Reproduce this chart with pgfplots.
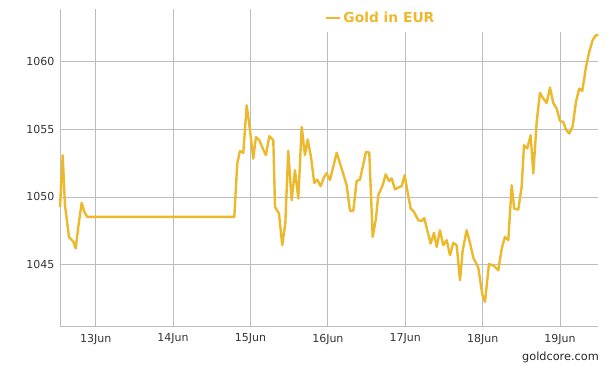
\documentclass[border=0pt]{standalone}
\usepackage{fontspec}
\setmainfont{DejaVu Sans}
\usepackage{pgfplots}
\pgfplotsset{compat=1.18}
\definecolor{gold}{RGB}{236,185,45}
\definecolor{gridc}{RGB}{188,188,188}
\definecolor{txt}{RGB}{51,51,51}
\begin{document}
\begin{tikzpicture}
\useasboundingbox (0,0) rectangle (616bp,369bp);
\begin{axis}[
  at={(60bp,42.3bp)}, anchor=south west,
  scale only axis, width=538.3bp, height=317.7bp,
  xmin=12.539, xmax=19.494, ymin=1040.43, ymax=1063.86,
  axis x line=bottom, axis y line=left,
  axis line style={gridc, line width=0.8bp, -},
  xtick={13,14,15,16,17,18,19},
  xticklabels={13Jun,14Jun,15Jun,16Jun,17Jun,18Jun,19Jun},
  ytick={1045,1050,1055,1060},
  major tick length=0pt,
  grid=major,
  major grid style={gridc, line width=0.8bp},
  /pgf/number format/assume math mode=true,
  /pgf/number format/1000 sep={},
  tick label style={font=\fontsize{11bp}{13bp}\selectfont, text=txt},
  yticklabel style={inner sep=0pt, xshift=-5.5bp},
  xticklabel style={inner sep=0pt, yshift=-7bp, anchor=north},
  legend style={at={(rel axis cs:0.5957,0.972)}, anchor=center, draw=none, fill=none,
    inner sep=0pt, font=\fontsize{13.8bp}{15bp}\selectfont\bfseries, text=gold,
    nodes={inner sep=2.5bp}},
  legend image code/.code={\draw[gold, line width=2.5bp] (0bp,0bp) -- (14bp,0bp);},
  clip=false,
]
\fill[white] (rel axis cs:0.45,0.928) rectangle (rel axis cs:1.005,1.005);
\addplot[gold, line width=2.4bp, line join=round] coordinates {
(12.539,1049.26) (12.574,1053.07) (12.603,1049.4) (12.655,1047.05) (12.711,1046.7)
(12.742,1046.2) (12.775,1047.8) (12.819,1049.56) (12.853,1048.9) (12.891,1048.53)
(14.791,1048.53) (14.829,1052.46) (14.864,1053.39) (14.907,1053.25) (14.951,1056.76)
(14.994,1054.92) (15.036,1052.83) (15.071,1054.42) (15.114,1054.18) (15.165,1053.5)
(15.200,1053.08) (15.243,1054.48) (15.295,1054.18) (15.317,1049.26) (15.368,1048.78)
(15.411,1046.44) (15.450,1048.04) (15.488,1053.39) (15.532,1049.76) (15.575,1051.97)
(15.618,1049.88) (15.662,1055.16) (15.704,1053.08) (15.739,1054.23) (15.782,1052.95)
(15.824,1051.03) (15.863,1051.28) (15.907,1050.79) (15.950,1051.45) (15.984,1051.75)
(16.027,1051.25) (16.114,1053.25) (16.178,1052.09) (16.243,1050.86) (16.286,1048.97)
(16.328,1048.97) (16.372,1051.18) (16.415,1051.28) (16.492,1053.32) (16.535,1053.27)
(16.579,1047.05) (16.621,1048.4) (16.651,1050.13) (16.708,1050.86) (16.747,1051.67)
(16.789,1051.18) (16.824,1051.36) (16.867,1050.57) (16.910,1050.69) (16.953,1050.79)
(16.992,1051.6) (17.026,1050.49) (17.070,1049.14) (17.112,1048.9) (17.168,1048.28)
(17.212,1048.23) (17.245,1048.45) (17.284,1047.54) (17.328,1046.56) (17.371,1047.35)
(17.406,1046.31) (17.448,1047.54) (17.491,1046.44) (17.535,1046.81) (17.578,1045.7)
(17.620,1046.61) (17.664,1046.44) (17.707,1043.86) (17.742,1046.07) (17.793,1047.54)
(17.836,1046.61) (17.879,1045.53) (17.943,1044.79) (17.987,1043.12) (18.000,1042.7)
(18.030,1042.26) (18.081,1045.04) (18.137,1044.96) (18.202,1044.59) (18.246,1046.19)
(18.288,1047.05) (18.331,1046.81) (18.375,1050.86) (18.408,1049.14) (18.460,1049.07)
(18.504,1050.74) (18.534,1053.81) (18.576,1053.57) (18.620,1054.55) (18.654,1051.73)
(18.698,1055.53) (18.740,1057.67) (18.783,1057.26) (18.827,1056.93) (18.870,1058.07)
(18.912,1056.93) (18.956,1056.52) (18.999,1055.6) (19.041,1055.53) (19.076,1054.97)
(19.119,1054.67) (19.163,1055.21) (19.205,1057.0) (19.248,1057.99) (19.287,1057.82)
(19.335,1059.59) (19.377,1060.7) (19.421,1061.56) (19.464,1061.93) (19.494,1061.93)
};
\addlegendentry{Gold in EUR}
\end{axis}
\node[anchor=base east, inner sep=0pt, text=black!85, font=\fontsize{11.3bp}{13bp}\selectfont] at (599bp,8.5bp) {goldcore.com};
\end{tikzpicture}
\end{document}
